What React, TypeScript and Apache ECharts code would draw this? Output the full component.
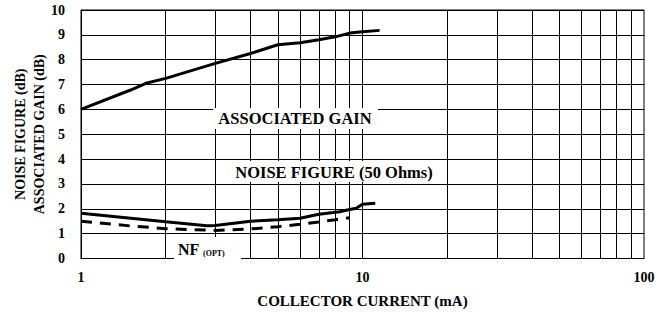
import React, { useEffect, useRef } from "react";
import * as echarts from "echarts";

// Collector current (mA) and values (dB)
const gainX = [1, 1.5, 1.7, 2, 3, 4, 5, 6, 7, 8, 9, 10, 11.5];
const gainY = [6.0, 6.78, 7.05, 7.25, 7.85, 8.25, 8.6, 8.68, 8.8, 8.92, 9.07, 9.12, 9.18];

const nfX = [1, 2, 2.8, 3, 4, 5, 6, 7, 8.3, 9, 9.5, 10, 11.1];
const nfY = [1.82, 1.48, 1.32, 1.33, 1.5, 1.56, 1.62, 1.78, 1.88, 1.97, 2.02, 2.18, 2.22];

const nfOptX = [1, 1.5, 2, 3, 4, 5, 6, 7, 8, 9];
const nfOptY = [1.5, 1.31, 1.2, 1.13, 1.19, 1.28, 1.38, 1.47, 1.56, 1.64];

const xGridLines = [2, 3, 4, 5, 6, 7, 8, 9, 10, 20, 30, 40, 50, 60, 70, 80, 90];

const FONT = "Liberation Serif";

export default function App() {
  const ref = useRef<HTMLDivElement>(null);
  useEffect(() => {
    if (!ref.current) return;
    const chart = echarts.init(ref.current, undefined, { renderer: "svg" });
    const zip = (xs: number[], ys: number[]) => xs.map((x, i) => [x, ys[i]]);
    chart.setOption({
      animation: false,
      backgroundColor: "#fff",
      grid: {
        left: 81,
        right: 28,
        top: 10,
        bottom: 53.5,
        containLabel: false,
        outerBoundsMode: "none",
        show: true,
        borderColor: "#000",
        borderWidth: 1,
      },
      xAxis: {
        type: "log",
        logBase: 10,
        min: 1,
        max: 100,
        axisLine: { show: true, lineStyle: { color: "#000", width: 1 } },
        axisTick: { show: false },
        splitLine: { show: false },
        axisLabel: {
          color: "#000",
          fontFamily: FONT,
          fontWeight: "bold",
          fontSize: 14,
          margin: 12,
        },
        name: "COLLECTOR CURRENT (mA)",
        nameLocation: "middle",
        nameGap: 35,
        nameMoveOverlap: false,
        nameTextStyle: {
          color: "#000",
          fontFamily: FONT,
          fontWeight: "bold",
          fontSize: 15,
        },
      },
      yAxis: {
        type: "value",
        min: 0,
        max: 10,
        interval: 1,
        axisLine: { show: true, lineStyle: { color: "#000", width: 1 } },
        axisTick: { show: false },
        splitLine: { show: true, lineStyle: { color: "#000", width: 1 } },
        axisLabel: {
          color: "#000",
          fontFamily: FONT,
          fontWeight: "bold",
          fontSize: 14,
          margin: 16,
        },
        name: "NOISE FIGURE (dB)\nASSOCIATED GAIN (dB)",
        nameLocation: "middle",
        nameRotate: 90,
        nameGap: 32,
        nameMoveOverlap: false,
        nameTextStyle: {
          color: "#000",
          fontFamily: FONT,
          fontWeight: "bold",
          fontSize: 14,
          lineHeight: 19,
        },
      },
      series: [
        {
          type: "line",
          data: zip(gainX, gainY),
          symbol: "none",
          lineStyle: { color: "#000", width: 3 },
          z: 5,
          markLine: {
            silent: true,
            symbol: ["none", "none"],
            label: { show: false },
            lineStyle: { color: "#000", width: 1, type: "solid" },
            data: xGridLines.map((v) => ({ xAxis: v })),
            z: 1,
          },
        },
        {
          type: "line",
          data: zip(nfX, nfY),
          symbol: "none",
          lineStyle: { color: "#000", width: 3 },
          z: 5,
        },
        {
          type: "line",
          data: zip(nfOptX, nfOptY),
          symbol: "none",
          lineStyle: { color: "#000", width: 3, type: [11, 8] },
          z: 5,
        },
      ],
      graphic: [
        {
          type: "rect",
          z: 100,
          shape: { x: 213, y: 108, width: 165, height: 21 },
          style: { fill: "#fff" },
        },
        {
          type: "text",
          z: 101,
          x: 295,
          y: 118,
          style: {
            text: "ASSOCIATED GAIN",
            fill: "#000",
            fontFamily: FONT,
            fontWeight: "bold",
            fontSize: 16.5,
            align: "center",
            verticalAlign: "middle",
          },
        },
        {
          type: "rect",
          z: 100,
          shape: { x: 228, y: 161, width: 212, height: 21 },
          style: { fill: "#fff" },
        },
        {
          type: "text",
          z: 101,
          x: 334,
          y: 172,
          style: {
            text: "NOISE FIGURE (50 Ohms)",
            fill: "#000",
            fontFamily: FONT,
            fontWeight: "bold",
            fontSize: 16.5,
            align: "center",
            verticalAlign: "middle",
          },
        },
        {
          type: "rect",
          z: 100,
          shape: { x: 174, y: 237, width: 67, height: 25 },
          style: { fill: "#fff" },
        },
        {
          type: "text",
          z: 101,
          x: 178,
          y: 249,
          style: {
            text: "NF",
            fill: "#000",
            fontFamily: FONT,
            fontWeight: "bold",
            fontSize: 16,
            align: "left",
            verticalAlign: "middle",
          },
        },
        {
          type: "text",
          z: 101,
          x: 203,
          y: 253,
          style: {
            text: "(OPT)",
            fill: "#000",
            fontFamily: FONT,
            fontWeight: "bold",
            fontSize: 8,
            align: "left",
            verticalAlign: "middle",
          },
        },
      ],
    });
    return () => chart.dispose();
  }, []);
  return (
    <div
      ref={ref}
      style={{ position: "fixed", left: 0, top: 0, width: 672, height: 312 }}
    />
  );
}
